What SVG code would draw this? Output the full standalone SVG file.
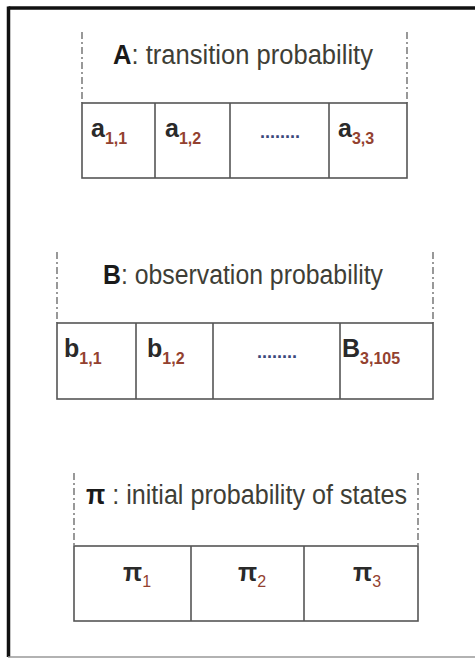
<svg xmlns="http://www.w3.org/2000/svg" width="475" height="659" viewBox="0 0 475 659">
<style>
.frame{fill:none;stroke:#111;stroke-width:3.5}
.cell{fill:#fff;stroke:#555;stroke-width:1.6}
.dash{stroke:#555;stroke-width:1.2;stroke-dasharray:7,3,2,3;fill:none}
.hdr{font-family:"Liberation Sans",Arial,sans-serif;font-size:27px;fill:#3e3e36}
.hk{fill:#1a1a1a;font-weight:bold}
.v{font-family:"Liberation Sans",Arial,sans-serif;font-size:25px;font-weight:bold;fill:#2a2a2a}
.s{font-size:16px;fill:#93412f}
.dots{font-family:"Liberation Sans",Arial,sans-serif;font-size:18px;font-weight:bold;fill:#3a4a7a}
</style>
<rect width="475" height="659" fill="#fff"/>
<g id="frame">
<line x1="8.5" y1="8" x2="475" y2="8" class="frame"/>
<line x1="8.5" y1="6.5" x2="8.5" y2="657" class="frame"/>
<line x1="8" y1="657" x2="475" y2="657" stroke="#999" stroke-width="1.5"/>
</g>
<g id="A">
<line x1="82" y1="32" x2="82" y2="103" class="dash"/>
<line x1="407" y1="32" x2="407" y2="103" class="dash"/>
<text x="113" y="64" class="hdr" textLength="260" lengthAdjust="spacingAndGlyphs"><tspan class="hk">A</tspan>: transition probability</text>
<rect x="82" y="103" width="325" height="75" class="cell"/>
<line x1="155" y1="103" x2="155" y2="178" class="cell"/>
<line x1="230" y1="103" x2="230" y2="178" class="cell"/>
<line x1="329" y1="103" x2="329" y2="178" class="cell"/>
<text x="91" y="137" class="v">a<tspan class="s" dy="7">1,1</tspan></text>
<text x="165" y="137" class="v">a<tspan class="s" dy="7">1,2</tspan></text>
<text x="280" y="138" class="dots" text-anchor="middle">........</text>
<text x="338" y="137" class="v">a<tspan class="s" dy="7">3,3</tspan></text>
</g>
<g id="B">
<line x1="57" y1="252" x2="57" y2="323" class="dash"/>
<line x1="433" y1="252" x2="433" y2="323" class="dash"/>
<text x="103" y="284" class="hdr" textLength="280" lengthAdjust="spacingAndGlyphs"><tspan class="hk">B</tspan>: observation probability</text>
<rect x="57" y="323" width="376" height="76" class="cell"/>
<line x1="136" y1="323" x2="136" y2="399" class="cell"/>
<line x1="213" y1="323" x2="213" y2="399" class="cell"/>
<line x1="340" y1="323" x2="340" y2="399" class="cell"/>
<text x="64" y="357" class="v">b<tspan class="s" dy="7">1,1</tspan></text>
<text x="147" y="357" class="v">b<tspan class="s" dy="7">1,2</tspan></text>
<text x="277" y="358" class="dots" text-anchor="middle">........</text>
<text x="342" y="357" class="v">B<tspan class="s" dy="7">3,105</tspan></text>
</g>
<g id="PI">
<line x1="74" y1="473" x2="74" y2="546" class="dash"/>
<line x1="418" y1="473" x2="418" y2="546" class="dash"/>
<text x="86" y="504" class="hdr" textLength="321" lengthAdjust="spacingAndGlyphs"><tspan class="hk">π</tspan> : initial probability of states</text>
<rect x="74" y="546" width="344" height="75" class="cell"/>
<line x1="191" y1="546" x2="191" y2="621" class="cell"/>
<line x1="304" y1="546" x2="304" y2="621" class="cell"/>
<text x="123" y="581" class="v">π<tspan class="s" dy="6" font-weight="normal" fill="#8a7a2a">1</tspan></text>
<text x="238" y="581" class="v">π<tspan class="s" dy="6" font-weight="normal" fill="#6a7a3a">2</tspan></text>
<text x="353" y="581" class="v">π<tspan class="s" dy="6" font-weight="normal" fill="#6a6a4a">3</tspan></text>
</g>
</svg>
